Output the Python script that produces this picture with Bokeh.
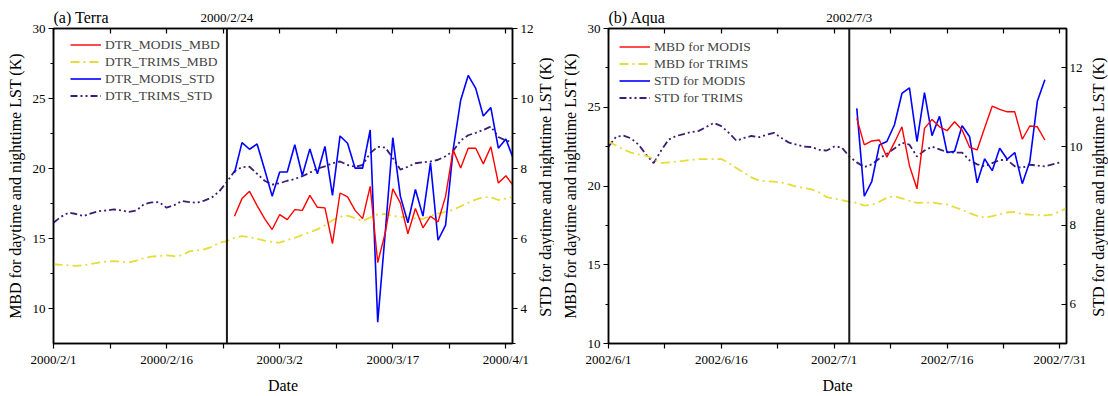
import math
import pandas as pd
from bokeh.plotting import figure
from bokeh.layouts import row, column
from bokeh.models import (Range1d, LinearAxis, FixedTicker, Span,
                          Legend, LegendItem)
from bokeh.core.properties import value
from bokeh.embed import file_html
from bokeh.resources import INLINE

FONT = "Liberation Serif"

# ---------------- data: (a) Terra ----------------
terra_trims_start = "2000-02-01"
terra_trims_mbd = [13.16, 13.12, 13.08, 13.04, 13.10, 13.18, 13.28, 13.34, 13.39, 13.34,
                   13.30, 13.42, 13.60, 13.70, 13.75, 13.79, 13.74, 13.80, 14.08, 14.15,
                   14.22, 14.40, 14.70, 14.82, 15.05, 15.17, 15.10, 14.98, 14.85, 14.75,
                   14.70, 14.90, 15.05, 15.25, 15.45, 15.65, 15.95, 16.30, 16.55, 16.64,
                   16.45, 16.25, 16.50, 16.72, 16.75, 16.62, 16.55, 16.50, 16.45, 16.40,
                   16.60, 16.78, 16.90, 17.05, 17.30, 17.55, 17.78, 17.95, 17.95, 17.75,
                   17.85, 17.97]
terra_trims_std = [6.45, 6.62, 6.74, 6.70, 6.64, 6.72, 6.78, 6.80, 6.83, 6.80,
                   6.76, 6.80, 6.98, 7.03, 7.04, 6.88, 6.95, 7.07, 7.04, 7.02,
                   7.08, 7.17, 7.35, 7.62, 7.92, 8.04, 8.05, 7.85, 7.65, 7.54,
                   7.58, 7.65, 7.70, 7.78, 7.88, 8.00, 8.06, 8.15, 8.20, 8.10,
                   8.05, 8.10, 8.44, 8.62, 8.60, 8.30, 7.97, 8.05, 8.15, 8.18,
                   8.20, 8.25, 8.35, 8.50, 8.80, 8.95, 9.02, 9.10, 9.20, 8.90,
                   8.80, 8.74]
terra_modis_start = "2000-02-25"
terra_modis_mbd = [16.59, 17.85, 18.37, 17.35, 16.42, 15.64, 16.71, 16.35, 17.06, 17.01,
                   18.08, 17.23, 17.19, 14.63, 18.25, 17.97, 17.01, 16.42, 18.72, 13.28,
                   15.41, 18.54, 17.54, 15.34, 17.14, 15.76, 16.59, 16.19, 18.01, 21.33,
                   20.03, 21.45, 21.45, 20.33, 21.56, 18.96, 19.48, 18.77]
terra_modis_std = [7.87, 8.74, 8.55, 8.70, 7.97, 7.21, 7.90, 7.90, 8.68, 7.80,
                   8.56, 7.85, 8.63, 7.23, 8.93, 8.72, 8.01, 8.01, 9.10, 3.61,
                   6.17, 8.88, 7.21, 6.45, 7.40, 6.64, 8.16, 5.95, 6.38, 8.53,
                   9.95, 10.66, 10.29, 9.50, 9.74, 8.58, 8.84, 8.27]
terra_marker_date = "2000-02-24"
terra_marker_text = "2000/2/24"
terra_ticks = ["2000-02-01", "2000-02-16", "2000-03-02", "2000-03-17", "2000-04-01"]
terra_tick_labels = ["2000/2/1", "2000/2/16", "2000/3/2", "2000/3/17", "2000/4/1"]
terra_labels = ["DTR_MODIS_MBD", "DTR_TRIMS_MBD", "DTR_MODIS_STD", "DTR_TRIMS_STD"]

# ---------------- data: (b) Aqua ----------------
aqua_trims_start = "2002-06-01"
aqua_trims_mbd = [22.82, 22.57, 22.32, 22.12, 22.00, 21.92, 21.72, 21.45, 21.50, 21.55,
                  21.60, 21.66, 21.70, 21.71, 21.70, 21.72, 21.45, 21.14, 20.85, 20.55,
                  20.35, 20.30, 20.28, 20.22, 20.10, 19.95, 19.88, 19.78, 19.60, 19.30,
                  19.20, 19.10, 19.00, 18.93, 18.75, 18.80, 19.00, 19.25, 19.35, 19.22,
                  19.05, 18.93, 18.95, 18.95, 18.88, 18.83, 18.65, 18.50, 18.28, 18.10,
                  17.99, 18.08, 18.20, 18.33, 18.35, 18.22, 18.18, 18.15, 18.13, 18.18,
                  18.40, 18.60]
aqua_trims_std = [10.00, 10.25, 10.28, 10.21, 10.05, 9.80, 9.58, 9.90, 10.18, 10.27,
                  10.32, 10.37, 10.40, 10.50, 10.60, 10.52, 10.35, 10.15, 10.22, 10.27,
                  10.24, 10.30, 10.35, 10.22, 10.10, 10.05, 10.00, 9.99, 9.92, 9.90,
                  10.00, 9.98, 9.75, 9.60, 9.48, 9.55, 9.70, 9.82, 9.95, 10.10,
                  10.05, 9.75, 9.90, 10.00, 9.93, 9.86, 9.85, 9.85, 9.65, 9.55,
                  9.50, 9.58, 9.66, 9.66, 9.50, 9.46, 9.54, 9.52, 9.50, 9.55, 9.60]
aqua_modis_start = "2002-07-04"
aqua_modis_mbd = [24.29, 22.61, 22.86, 22.92, 21.83, 22.75, 23.76, 21.29, 19.82, 23.66,
                  24.23, 23.76, 23.51, 24.08, 23.55, 22.46, 22.29, 23.70, 25.07, 24.86,
                  24.71, 24.71, 22.97, 23.81, 23.76, 22.92]
aqua_modis_std = [10.97, 8.74, 9.12, 10.04, 10.13, 10.55, 11.35, 11.49, 10.13, 11.37,
                  10.28, 10.77, 9.85, 9.88, 10.53, 10.25, 9.08, 9.69, 9.39, 9.96,
                  9.68, 9.85, 9.06, 9.62, 11.15, 11.70]
aqua_marker_date = "2002-07-03"
aqua_marker_text = "2002/7/3"
aqua_ticks = ["2002-06-01", "2002-06-16", "2002-07-01", "2002-07-16", "2002-07-31"]
aqua_tick_labels = ["2002/6/1", "2002/6/16", "2002/7/1", "2002/7/16", "2002/7/31"]
aqua_labels = ["MBD for MODIS", "MBD for TRIMS", "STD for MODIS", "STD for TRIMS"]

LEFT_LABEL = "MBD for daytime and nighttime LST (K)"
RIGHT_LABEL = "STD for daytime and nighttime LST (K)"

RED = "#FF0000"
YELLOW = "#E6DC3A"
BLUE = "#0000FF"
PURPLE = "#3C1E72"

TOTAL_H = 396
FRAME_TOP = 28
HEADER_H = 26
OVERLAP = 6        # main figure is pulled up over the header's bottom edge
MAIN_H = TOTAL_H - HEADER_H + OVERLAP
TOP_B = FRAME_TOP - HEADER_H + OVERLAP
BOTTOM_B = 51
RIGHT_B = 23       # room for right tick labels; the right title sits in a side strip


def ms(d):
    return int(pd.Timestamp(d).value // 10**6)


def dates(start, n):
    return pd.date_range(start, periods=n, freq="D")


def style_text_axis(ax, size="13px"):
    ax.major_label_text_font = FONT
    ax.major_label_text_font_size = size
    ax.major_label_text_color = "black"
    ax.axis_label_text_font = FONT
    ax.axis_label_text_font_size = "16px"
    ax.axis_label_text_font_style = "normal"
    ax.axis_label_text_color = "black"
    ax.axis_line_width = 1.5
    ax.axis_line_color = "black"
    ax.major_tick_line_color = "black"
    ax.minor_tick_line_color = "black"
    ax.major_tick_line_width = 1.2
    ax.minor_tick_line_width = 1.2


def blank_fig(width, height, xr, yr):
    f = figure(width=width, height=height, x_range=xr, y_range=yr,
               output_backend="svg", toolbar_location=None,
               x_axis_location=None, y_axis_location=None,
               min_border=0, min_border_left=0, min_border_right=0,
               min_border_top=0, min_border_bottom=0)
    f.outline_line_color = None
    f.xgrid.visible = False
    f.ygrid.visible = False
    f.border_fill_color = "white"
    f.background_fill_color = "white"
    return f


def panel(title, trims_start, trims_mbd, trims_std, modis_start, modis_mbd, modis_std,
          marker_date, marker_text, ticks, tick_labels, labels,
          yl, yr, lticks, lminor, rticks, rminor, right_in, bl, frame_w, strip_w,
          legend_loc):
    x0 = ms(ticks[0])
    x1 = ms(pd.Timestamp(ticks[-1]) + pd.Timedelta(hours=21))
    width = bl + frame_w + RIGHT_B
    xr = Range1d(x0, x1)
    p = figure(width=width, height=MAIN_H, x_axis_type="datetime",
               x_range=xr, y_range=Range1d(*yl),
               output_backend="svg", toolbar_location=None,
               min_border_left=bl, min_border_right=RIGHT_B,
               min_border_top=TOP_B, min_border_bottom=BOTTOM_B,
               margin=(-OVERLAP, 0, 0, 0))
    p.extra_y_ranges = {"std": Range1d(*yr)}
    p.xgrid.visible = False
    p.ygrid.visible = False
    p.outline_line_color = "black"
    p.outline_line_width = 1.5
    p.background_fill_color = "white"
    p.border_fill_alpha = 0

    tick_ms = [ms(t) for t in ticks]
    minor_ms = [(a + b) // 2 for a, b in zip(tick_ms[:-1], tick_ms[1:])]

    xa = p.xaxis[0]
    xa.ticker = FixedTicker(ticks=tick_ms, minor_ticks=minor_ms)
    xa.major_label_overrides = {t: l for t, l in zip(tick_ms, tick_labels)}
    xa.axis_label = "Date"
    style_text_axis(xa)
    xa.major_tick_out = 5
    xa.major_tick_in = 0
    xa.minor_tick_out = 5
    xa.minor_tick_in = 0
    xa.major_label_standoff = 3
    xa.axis_label_standoff = 7

    top = LinearAxis(ticker=FixedTicker(ticks=tick_ms, minor_ticks=minor_ms))
    style_text_axis(top)
    top.major_label_overrides = {t: "" for t in tick_ms}
    top.major_label_text_font_size = "1px"
    top.major_label_standoff = 0
    top.major_tick_in = 5
    top.major_tick_out = 0
    top.minor_tick_in = 5
    top.minor_tick_out = 0
    p.add_layout(top, "above")

    ya = p.yaxis[0]
    ya.ticker = FixedTicker(ticks=lticks, minor_ticks=lminor)
    ya.axis_label = LEFT_LABEL
    style_text_axis(ya)
    ya.major_tick_out = 5
    ya.major_tick_in = 0
    ya.minor_tick_out = 3
    ya.minor_tick_in = 0
    ya.major_label_standoff = 3
    ya.axis_label_standoff = 6

    ra = LinearAxis(y_range_name="std", ticker=FixedTicker(ticks=rticks, minor_ticks=rminor))
    style_text_axis(ra)
    if right_in:
        ra.major_tick_in = 5
        ra.major_tick_out = 0
        ra.minor_tick_in = 3
        ra.minor_tick_out = 0
    else:
        ra.major_tick_out = 5
        ra.major_tick_in = 0
        ra.minor_tick_out = 3
        ra.minor_tick_in = 0
    ra.major_label_standoff = 3
    p.add_layout(ra, "right")

    tx = dates(trims_start, len(trims_mbd))
    tsx = dates(trims_start, len(trims_std))
    mx = dates(modis_start, len(modis_mbd))

    r_trims_std = p.line(tsx, trims_std, y_range_name="std", color=PURPLE, line_width=1.8,
                         line_dash="7 3 2 3 2 3")
    r_trims_mbd = p.line(tx, trims_mbd, color=YELLOW, line_width=1.8, line_dash="9 4 2 4")
    r_modis_std = p.line(mx, modis_std, y_range_name="std", color=BLUE, line_width=1.6)
    r_modis_mbd = p.line(mx, modis_mbd, color=RED, line_width=1.4)

    p.add_layout(Span(location=ms(marker_date), dimension="height", line_color="#1a1a1a",
                      line_width=2))

    legend = Legend(items=[LegendItem(label=labels[0], renderers=[r_modis_mbd]),
                           LegendItem(label=labels[1], renderers=[r_trims_mbd]),
                           LegendItem(label=labels[2], renderers=[r_modis_std]),
                           LegendItem(label=labels[3], renderers=[r_trims_std])],
                    location=legend_loc, margin=0, padding=0, spacing=0,
                    glyph_width=31, glyph_height=17, label_height=17, label_standoff=4,
                    label_text_font=FONT, label_text_font_size="13.5px",
                    border_line_alpha=0, background_fill_alpha=0)
    p.add_layout(legend)

    # header strip: panel title and marker date; its frame is aligned with the plot's
    # frame by the column layout, so it shares the plot's x range
    h = blank_fig(width, HEADER_H, xr, Range1d(0, HEADER_H))
    h.text(x=[x0], y=[HEADER_H - 16.5], text=[title], text_font=value(FONT),
           text_font_size="16px", text_align="left", text_baseline="middle",
           text_color="black")
    h.text(x=[ms(marker_date)], y=[HEADER_H - 16.5], text=[marker_text],
           text_font=value(FONT), text_font_size="13px", text_align="center",
           text_baseline="middle", text_color="black")

    # side strip: right-axis title, reading bottom to top
    frame_mid = FRAME_TOP + (TOTAL_H - FRAME_TOP - BOTTOM_B) / 2
    s = blank_fig(strip_w, TOTAL_H, Range1d(0, strip_w), Range1d(0, TOTAL_H))
    s.text(x=[strip_w / 2 - 0.5], y=[TOTAL_H - frame_mid], text=[RIGHT_LABEL],
           text_font=value(FONT), text_font_size="16px", text_align="center",
           text_baseline="middle", angle=math.pi / 2, text_color="black")

    return row(column(h, p), s)


pa = panel("(a) Terra", terra_trims_start, terra_trims_mbd, terra_trims_std,
           terra_modis_start, terra_modis_mbd, terra_modis_std,
           terra_marker_date, terra_marker_text, terra_ticks, terra_tick_labels, terra_labels,
           (7.5, 30), (3, 12), [10, 15, 20, 25, 30], [12.5, 17.5, 22.5, 27.5],
           [4, 6, 8, 10, 12], [3, 5, 7, 9, 11], False, 53, 460, 18, (17, 239))

pb = panel("(b) Aqua", aqua_trims_start, aqua_trims_mbd, aqua_trims_std,
           aqua_modis_start, aqua_modis_mbd, aqua_modis_std,
           aqua_marker_date, aqua_marker_text, aqua_ticks, aqua_tick_labels, aqua_labels,
           (10, 30), (5, 13), [10, 15, 20, 25, 30], [12.5, 17.5, 22.5, 27.5],
           [6, 8, 10, 12], [5, 7, 9, 11, 13], True, 54, 458, 19, (11, 237))

layout = row(pa, pb)
open("out.html", "w").write(file_html(layout, INLINE))
